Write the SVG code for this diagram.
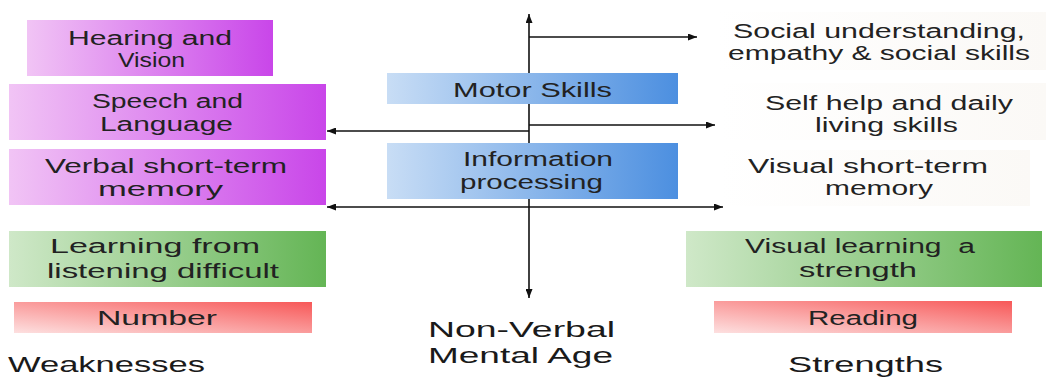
<svg xmlns="http://www.w3.org/2000/svg" width="1046" height="377" viewBox="0 0 1046 377">
<defs>
<linearGradient id="gPurple" x1="0" y1="0" x2="1" y2="0"><stop offset="0" stop-color="#f1c4f5"/><stop offset="1" stop-color="#c946e9"/></linearGradient>
<linearGradient id="gBlue" x1="0" y1="0" x2="1" y2="0"><stop offset="0" stop-color="#c8ddf5"/><stop offset="1" stop-color="#4c8fe0"/></linearGradient>
<linearGradient id="gGreen" x1="0" y1="0" x2="1" y2="0"><stop offset="0" stop-color="#cfe8c8"/><stop offset="1" stop-color="#64b555"/></linearGradient>
<linearGradient id="gRed" x1="0" y1="1" x2="1" y2="0"><stop offset="0" stop-color="#fde0e0"/><stop offset="1" stop-color="#f75858"/></linearGradient>
<linearGradient id="gFaint" x1="0" y1="0" x2="1" y2="0"><stop offset="0" stop-color="#ffffff"/><stop offset="1" stop-color="#fbf9f6"/></linearGradient>
<marker id="ah" markerWidth="9" markerHeight="7" refX="9" refY="3.5" orient="auto" markerUnits="userSpaceOnUse"><path d="M0,0 L9,3.5 L0,7 z" fill="#111"/></marker>
<marker id="ahs" markerWidth="9" markerHeight="7" refX="0" refY="3.5" orient="auto" markerUnits="userSpaceOnUse"><path d="M9,0 L0,3.5 L9,7 z" fill="#111"/></marker>
</defs>
<style>
text{font-family:"Liberation Sans",Arial,sans-serif;font-size:19.5px;fill:#222}
.big{font-size:22px;fill:#1a1a1a}
.ln{stroke:#111;stroke-width:1.6;fill:none}
</style>
<g id="connectors">
<line class="ln" x1="529" y1="14" x2="529" y2="298" stroke-width="2.2" marker-start="url(#ahs)" marker-end="url(#ah)"/>
<line class="ln" x1="529" y1="37" x2="697" y2="37" marker-end="url(#ah)"/>
<line class="ln" x1="529" y1="131" x2="327" y2="131" marker-end="url(#ah)"/>
<line class="ln" x1="529" y1="125" x2="715" y2="125" marker-end="url(#ah)"/>
<line class="ln" x1="327" y1="207" x2="723" y2="207" marker-start="url(#ahs)" marker-end="url(#ah)"/>
</g>
<g id="hearing"><rect x="27" y="20" width="246" height="56" fill="url(#gPurple)"/>
<text x="68" y="45" textLength="164" lengthAdjust="spacingAndGlyphs">Hearing and</text>
<text x="118" y="67" textLength="67" lengthAdjust="spacingAndGlyphs">Vision</text></g>
<g id="speech"><rect x="9" y="84" width="317" height="56" fill="url(#gPurple)"/>
<text x="92" y="108" textLength="151" lengthAdjust="spacingAndGlyphs">Speech and</text>
<text x="100" y="131" textLength="133" lengthAdjust="spacingAndGlyphs">Language</text></g>
<g id="verbal"><rect x="9" y="149" width="317" height="56" fill="url(#gPurple)"/>
<text x="45" y="173" textLength="242" lengthAdjust="spacingAndGlyphs">Verbal short-term</text>
<text x="98" y="196" textLength="125" lengthAdjust="spacingAndGlyphs">memory</text></g>
<g id="motor"><rect x="387" y="73" width="291" height="31" fill="url(#gBlue)"/>
<text x="453" y="97" textLength="159" lengthAdjust="spacingAndGlyphs">Motor Skills</text></g>
<g id="info"><rect x="387" y="143" width="291" height="56" fill="url(#gBlue)"/>
<text x="463" y="166" textLength="150" lengthAdjust="spacingAndGlyphs">Information</text>
<text x="460" y="189" textLength="143" lengthAdjust="spacingAndGlyphs">processing</text></g>
<g id="social"><rect x="718" y="12" width="328" height="58" fill="url(#gFaint)"/>
<text x="733" y="38" textLength="292" lengthAdjust="spacingAndGlyphs">Social understanding,</text>
<text x="728" y="60" textLength="302" lengthAdjust="spacingAndGlyphs">empathy &amp; social skills</text></g>
<g id="selfhelp"><rect x="720" y="83" width="326" height="57" fill="url(#gFaint)"/>
<text x="765" y="110" textLength="248" lengthAdjust="spacingAndGlyphs">Self help and daily</text>
<text x="815" y="132" textLength="143" lengthAdjust="spacingAndGlyphs">living skills</text></g>
<g id="visualstm"><rect x="720" y="150" width="310" height="56" fill="url(#gFaint)"/>
<text x="748" y="173" textLength="240" lengthAdjust="spacingAndGlyphs">Visual short-term</text>
<text x="825" y="195" textLength="108" lengthAdjust="spacingAndGlyphs">memory</text></g>
<g id="learning"><rect x="9" y="231" width="317" height="56" fill="url(#gGreen)"/>
<text x="50" y="253" textLength="210" lengthAdjust="spacingAndGlyphs">Learning from</text>
<text x="47" y="278" textLength="232" lengthAdjust="spacingAndGlyphs">listening difficult</text></g>
<g id="visuallearning"><rect x="686" y="231" width="356" height="56" fill="url(#gGreen)"/>
<text x="745" y="253" textLength="230" lengthAdjust="spacingAndGlyphs" xml:space="preserve">Visual learning  a</text>
<text x="799" y="277" textLength="118" lengthAdjust="spacingAndGlyphs">strength</text></g>
<g id="number"><rect x="14" y="302" width="298" height="31" fill="url(#gRed)"/>
<text x="97" y="325" textLength="120" lengthAdjust="spacingAndGlyphs">Number</text></g>
<g id="reading"><rect x="714" y="301" width="298" height="32" fill="url(#gRed)"/>
<text x="808" y="325" textLength="110" lengthAdjust="spacingAndGlyphs">Reading</text></g>
<g id="axislabel">
<text class="big" x="428" y="337" textLength="187" lengthAdjust="spacingAndGlyphs">Non-Verbal</text>
<text class="big" x="428" y="363" textLength="185" lengthAdjust="spacingAndGlyphs">Mental Age</text></g>
<g id="weaknesses"><text class="big" x="8" y="372" textLength="197" lengthAdjust="spacingAndGlyphs">Weaknesses</text></g>
<g id="strengths"><text class="big" x="788" y="372" textLength="155" lengthAdjust="spacingAndGlyphs">Strengths</text></g>
</svg>
